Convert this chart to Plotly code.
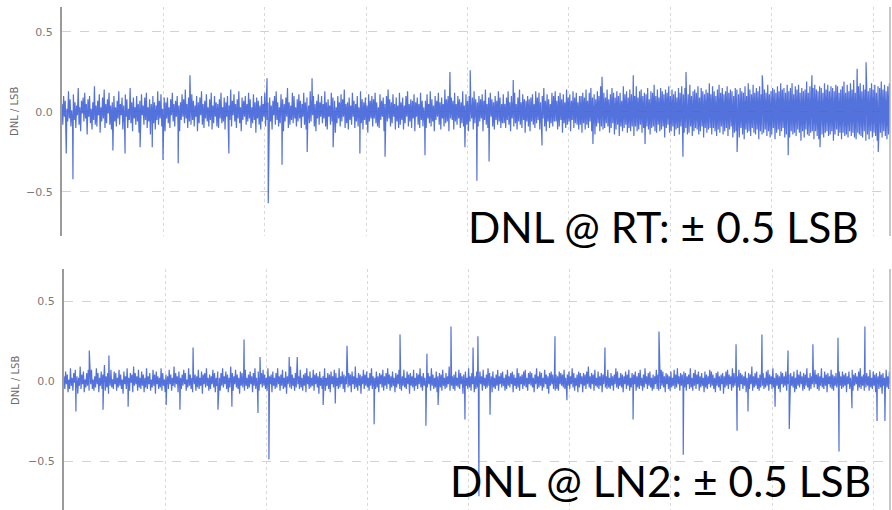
import plotly.graph_objects as go

# DNL per output code, in hundredths of an LSB, sampled every 4 codes (0 .. 4092)
CODE_STEP = 4

rt_dnl = [
    5, -8, 10, -3, 7, -11, 2, -6, 13, -4, 8, -9, 1, -7, 11, -5, 6, -10, 4, -2, 15, -8, 3, -12, 7, -1, 9, -6, 12, -4, 5, -14,
    8, -3, 10, -7, 2, -11, 6, -5, 16, -8, 4, -9, 7, -2, 11, -13, 3, -6, 9, -4, 14, -10, 5, -7, 8, -1, 12, -8, 4, -11, 6, -5,
    10, -6, 3, -9, 7, -4, 13, -8, 5, -2, 9, -11, 4, -7, 11, -3, 8, -10, 2, -5, 15, -7, 6, -12, 9, -4, 3, -8, 10, -6, 5, -13,
    7, -9, 11, -2, 4, -8, 9, -5, 12, -10, 3, -6, 8, -14, 5, -3, 10, -7, 6, -11, 4, -5, 13, -8, 7, -4, 11, -9, 2, -6, 9, -12,
    6, -4, 9, -7, 3, -10, 8, -2, 12, -6, 5, -9, 7, -3, 10, -8, 4, -12, 6, -5, 11, -3, 8, -7, 14, -4, 5, -10, 9, -6, 3, -8,
    11, -5, 7, -9, 4, -3, 10, -12, 6, -7, 9, -2, 13, -8, 5, -10, 7, -4, 11, -6, 3, -9, 8, -5, 12, -11, 4, -7, 10, -3, 6, -9,
    5, -10, 8, -4, 12, -7, 3, -6, 9, -11, 6, -3, 10, -8, 4, -5, 14, -9, 7, -2, 11, -6, 5, -10, 8, -4, 13, -7, 3, -12, 9, -5,
    7, -3, 10, -8, 5, -6, 12, -4, 8, -10, 3, -7, 11, -5, 6, -13, 9, -4, 7, -8, 4, -11, 10, -6, 5, -3, 12, -9, 8, -5, 6, -10,
    9, -6, 4, -11, 7, -2, 10, -8, 13, -5, 6, -9, 3, -7, 11, -4, 8, -12, 5, -6, 9, -3, 15, -10, 6, -8, 4, -5, 12, -7, 10, -4,
    3, -9, 8, -6, 11, -4, 7, -10, 5, -3, 12, -8, 6, -11, 9, -5, 4, -7, 13, -6, 8, -2, 10, -9, 5, -12, 7, -4, 11, -8, 6, -3,
    10, -7, 5, -4, 13, -9, 6, -11, 8, -3, 4, -8, 12, -6, 9, -5, 7, -13, 3, -7, 10, -4, 6, -9, 11, -6, 8, -3, 14, -10, 5, -7,
    6, -11, 9, -5, 4, -8, 12, -3, 7, -10, 5, -6, 10, -9, 3, -4, 13, -7, 8, -11, 6, -5, 9, -8, 4, -13, 11, -6, 7, -4, 10, -9,
    8, -4, 12, -7, 6, -9, 3, -10, 11, -5, 7, -3, 9, -12, 5, -8, 10, -6, 14, -4, 8, -9, 6, -7, 11, -3, 5, -11, 9, -6, 4, -10,
    12, -8, 6, -5, 9, -11, 4, -7, 10, -3, 13, -9, 5, -6, 8, -10, 7, -4, 11, -12, 6, -3, 9, -8, 5, -10, 12, -5, 7, -9, 3, -6,
    7, -10, 11, -4, 5, -7, 13, -9, 8, -6, 4, -12, 10, -5, 7, -3, 12, -8, 6, -11, 9, -4, 5, -9, 14, -7, 8, -6, 10, -12, 6, -4,
    9, -5, 7, -11, 12, -6, 5, -8, 10, -4, 8, -10, 6, -7, 13, -9, 4, -5, 11, -8, 7, -12, 10, -6, 5, -4, 9, -11, 13, -7, 8, -5,
    6, -9, 10, -6, 8, -4, 11, -12, 7, -5, 14, -8, 5, -10, 9, -6, 12, -3, 8, -9, 6, -11, 10, -5, 7, -8, 13, -6, 9, -10, 5, -7,
    11, -7, 5, -10, 9, -5, 13, -8, 6, -12, 10, -4, 7, -9, 12, -7, 5, -11, 9, -6, 14, -8, 6, -10, 11, -5, 8, -13, 7, -6, 10, -9,
    8, -12, 9, -6, 11, -8, 5, -10, 13, -7, 9, -5, 12, -11, 6, -8, 10, -4, 15, -9, 7, -12, 11, -6, 8, -10, 5, -7, 12, -9, 10, -6,
    13, -6, 7, -11, 10, -9, 12, -5, 8, -13, 11, -7, 6, -10, 14, -8, 9, -6, 11, -12, 7, -5, 13, -10, 9, -7, 12, -8, 6, -11, 10, -8,
    10, -13, 12, -7, 9, -11, 14, -8, 7, -10, 12, -6, 15, -12, 9, -8, 11, -14, 8, -9, 13, -7, 10, -12, 16, -9, 8, -11, 12, -10, 9, -7,
    14, -9, 8, -13, 11, -10, 15, -7, 12, -14, 9, -11, 13, -8, 10, -15, 12, -9, 7, -12, 16, -10, 11, -8, 13, -13, 9, -10, 14, -12, 11, -9,
    12, -15, 10, -9, 16, -12, 9, -11, 13, -8, 14, -13, 10, -10, 12, -16, 11, -9, 15, -11, 8, -14, 13, -10, 12, -9, 17, -12, 10, -13, 14, -8,
    9, -12, 15, -11, 13, -9, 11, -16, 14, -10, 12, -8, 16, -13, 10, -12, 14, -9, 11, -15, 13, -11, 9, -10, 15, -14, 12, -9, 16, -12, 11, -13,
    15, -10, 12, -14, 11, -13, 17, -9, 10, -15, 13, -12, 14, -10, 12, -11, 16, -14, 9, -12, 15, -9, 13, -16, 11, -10, 14, -13, 12, -11, 18, -10,
    11, -14, 16, -10, 13, -12, 10, -15, 14, -11, 17, -13, 12, -9, 15, -14, 11, -12, 13, -10, 16, -15, 12, -11, 14, -9, 13, -16, 10, -13, 15, -12,
    14, -12, 11, -16, 15, -10, 13, -14, 12, -17, 16, -11, 10, -13, 18, -12, 14, -15, 11, -10, 17, -13, 12, -14, 15, -11, 13, -17, 16, -12, 11, -14,
    16, -13, 14, -11, 12, -15, 17, -12, 11, -16, 13, -14, 15, -10, 14, -17, 12, -13, 16, -11, 13, -15, 18, -12, 14, -10, 15, -16, 12, -14, 17, -11,
    13, -16, 15, -12, 18, -14, 11, -13, 16, -15, 14, -11, 17, -13, 12, -18, 15, -12, 13, -16, 14, -11, 19, -14, 12, -15, 16, -13, 14, -12, 15, -17,
    17, -12, 14, -15, 13, -17, 16, -11, 15, -14, 12, -16, 18, -13, 14, -12, 17, -15, 13, -14, 16, -12, 15, -18, 13, -14, 17, -11, 16, -15, 12, -13,
    14, -17, 16, -13, 19, -15, 12, -14, 17, -16, 13, -12, 18, -15, 14, -13, 20, -16, 12, -17, 15, -13, 16, -14, 18, -15, 13, -16, 17, -12, 14, -18,
    16, -14, 13, -17, 15, -12, 18, -16, 14, -13, 17, -15, 12, -18, 16, -14, 15, -13, 19, -16, 14, -12, 17, -15, 13, -17, 16, -14, 18, -13, 15, -16,
]

ln2_dnl = [
    3, -5, 6, -2, 4, -7, 1, -5, 8, -3, 2, -6, 5, -1, 7, -4, 3, -8, 2, -3, 9, -5, 4, -2, 6, -7, 1, -4, 5, -3, 7, -6,
    4, -2, 7, -5, 1, -6, 3, -4, 8, -2, 5, -7, 2, -3, 6, -5, 4, -1, 10, -6, 3, -4, 5, -8, 2, -3, 7, -4, 1, -5, 6, -2,
    5, -6, 2, -4, 7, -3, 4, -5, 1, -8, 6, -2, 3, -5, 8, -4, 2, -6, 5, -1, 4, -7, 9, -3, 5, -2, 3, -6, 7, -4, 2, -5,
    6, -3, 4, -7, 2, -4, 8, -5, 3, -2, 5, -6, 1, -4, 7, -3, 4, -8, 6, -2, 3, -5, 2, -4, 8, -6, 5, -3, 1, -7, 4, -2,
    3, -5, 7, -2, 4, -6, 2, -3, 9, -4, 5, -2, 3, -7, 6, -4, 2, -5, 4, -3, 7, -2, 5, -6, 1, -4, 8, -3, 4, -5, 2, -7,
    5, -2, 4, -6, 3, -4, 7, -5, 2, -3, 6, -8, 4, -2, 5, -4, 8, -3, 2, -6, 4, -5, 3, -2, 7, -4, 5, -7, 2, -3, 6, -4,
    2, -6, 5, -3, 8, -4, 3, -2, 6, -5, 4, -7, 2, -4, 9, -3, 5, -6, 3, -2, 7, -4, 4, -5, 2, -8, 6, -3, 5, -4, 3, -6,
    7, -3, 2, -5, 4, -4, 6, -2, 3, -7, 5, -3, 8, -5, 2, -4, 6, -6, 3, -2, 5, -4, 7, -3, 4, -5, 2, -6, 8, -4, 3, -2,
    4, -7, 6, -3, 2, -5, 5, -4, 8, -2, 3, -6, 4, -3, 7, -5, 2, -4, 6, -8, 3, -2, 5, -4, 9, -5, 4, -3, 2, -6, 5, -4,
    6, -2, 3, -5, 7, -4, 2, -6, 4, -3, 5, -7, 8, -2, 3, -5, 6, -4, 2, -3, 7, -6, 4, -2, 5, -4, 3, -8, 6, -3, 2, -5,
    3, -4, 8, -6, 2, -3, 5, -5, 4, -7, 6, -2, 3, -4, 7, -6, 5, -3, 2, -5, 8, -4, 3, -2, 6, -5, 4, -7, 3, -2, 5, -4,
    5, -3, 4, -7, 6, -2, 3, -5, 9, -4, 2, -6, 5, -3, 4, -8, 3, -2, 7, -5, 4, -3, 6, -4, 2, -6, 5, -3, 8, -5, 3, -4,
    2, -5, 6, -4, 3, -7, 5, -2, 4, -4, 7, -6, 3, -3, 5, -5, 8, -2, 4, -6, 3, -4, 6, -3, 2, -7, 5, -4, 4, -2, 7, -5,
    4, -6, 3, -3, 7, -4, 2, -5, 6, -2, 4, -8, 5, -3, 3, -4, 7, -6, 2, -3, 5, -5, 4, -2, 8, -4, 3, -6, 5, -3, 2, -4,
    6, -4, 5, -2, 3, -6, 8, -3, 4, -5, 2, -4, 6, -7, 3, -2, 5, -4, 4, -6, 7, -3, 2, -5, 5, -4, 3, -2, 9, -6, 4, -3,
    3, -5, 4, -6, 6, -3, 2, -4, 7, -5, 5, -2, 3, -8, 4, -4, 6, -3, 2, -5, 8, -4, 3, -6, 5, -2, 4, -7, 3, -5, 6, -4,
    5, -4, 6, -2, 3, -6, 7, -3, 2, -5, 4, -4, 8, -3, 5, -2, 3, -7, 6, -4, 2, -5, 4, -3, 7, -6, 3, -2, 5, -4, 6, -3,
    2, -6, 4, -5, 7, -3, 3, -4, 5, -2, 6, -7, 4, -3, 2, -5, 8, -4, 5, -6, 3, -2, 4, -5, 6, -3, 7, -4, 2, -6, 5, -2,
    6, -3, 5, -4, 2, -7, 4, -2, 8, -5, 3, -4, 6, -3, 5, -6, 2, -4, 7, -2, 4, -5, 3, -8, 5, -3, 6, -2, 4, -5, 3, -6,
    4, -5, 3, -6, 6, -2, 5, -3, 4, -4, 7, -5, 2, -6, 4, -3, 6, -5, 3, -2, 8, -4, 5, -6, 2, -3, 4, -7, 6, -4, 5, -2,
    3, -7, 5, -3, 4, -5, 6, -2, 9, -4, 3, -5, 5, -2, 4, -6, 7, -3, 2, -4, 6, -5, 3, -3, 5, -7, 4, -2, 6, -4, 3, -5,
    7, -4, 2, -5, 5, -3, 3, -6, 4, -2, 8, -4, 6, -5, 2, -3, 5, -4, 4, -7, 3, -2, 6, -5, 4, -3, 7, -6, 2, -4, 5, -3,
    4, -2, 6, -6, 3, -4, 5, -5, 7, -3, 2, -6, 4, -4, 8, -2, 3, -5, 5, -3, 6, -4, 2, -6, 4, -5, 3, -2, 7, -5, 4, -6,
    2, -5, 7, -3, 6, -4, 3, -7, 5, -2, 4, -5, 3, -6, 6, -4, 2, -3, 7, -5, 4, -4, 8, -2, 3, -6, 5, -3, 4, -5, 6, -4,
    5, -6, 3, -2, 4, -5, 8, -4, 2, -6, 5, -3, 7, -5, 4, -2, 6, -6, 3, -4, 5, -3, 2, -7, 6, -4, 4, -5, 3, -2, 7, -4,
    6, -3, 4, -5, 2, -7, 5, -3, 6, -4, 3, -6, 4, -2, 5, -8, 3, -4, 6, -3, 7, -5, 4, -2, 3, -6, 8, -4, 5, -3, 2, -5,
    3, -4, 7, -6, 5, -2, 4, -5, 3, -3, 6, -7, 2, -4, 5, -5, 4, -2, 9, -6, 3, -4, 5, -3, 6, -5, 2, -6, 4, -4, 7, -3,
    5, -5, 2, -4, 6, -3, 7, -6, 4, -2, 3, -5, 8, -4, 2, -6, 5, -3, 4, -5, 3, -7, 6, -2, 5, -4, 3, -3, 6, -6, 4, -2,
    4, -6, 5, -3, 3, -4, 6, -7, 2, -5, 7, -3, 4, -4, 6, -2, 3, -6, 5, -5, 4, -3, 8, -4, 2, -6, 5, -5, 3, -2, 6, -4,
    7, -2, 4, -5, 5, -6, 3, -3, 8, -4, 2, -5, 6, -3, 4, -7, 5, -2, 3, -4, 7, -5, 4, -6, 3, -3, 5, -4, 2, -7, 6, -3,
    3, -5, 6, -4, 4, -3, 5, -7, 3, -2, 6, -5, 2, -4, 7, -6, 4, -3, 5, -2, 3, -6, 6, -4, 8, -5, 3, -3, 4, -6, 5, -4,
    5, -3, 3, -6, 7, -4, 2, -5, 6, -3, 4, -7, 5, -2, 3, -5, 6, -4, 4, -8, 5, -3, 2, -6, 7, -4, 3, -5, 6, -2, 4, -5,
]

# Isolated large-DNL codes (code, DNL in LSB)
rt_spike_codes = [21, 54, 251, 311, 385, 445, 498, 573, 631, 823, 1011, 1017, 1085, 1209, 1233,
                  1337, 1469, 1593, 1790, 1913, 1987, 2013, 2046, 2106, 2225, 2367, 2618, 2663,
                  2817, 2875, 3062, 3077, 3329, 3453, 3581, 3698, 3738, 3921, 3965, 4025]
rt_spike_values = [-0.26, -0.42, -0.24, -0.26, -0.22, -0.22, -0.30, -0.32, 0.23, -0.26, 0.21, -0.57,
                   -0.33, -0.25, 0.21, -0.22, -0.26, -0.28, -0.27, 0.25, -0.22, 0.26, -0.43, -0.31,
                   0.20, -0.21, -0.20, 0.22, 0.23, -0.20, -0.28, 0.25, -0.25, 0.23, -0.27, 0.23,
                   -0.22, 0.27, 0.31, -0.25]

ln2_spike_codes = [59, 125, 193, 222, 317, 505, 573, 638, 761, 830, 890, 959, 969, 1013, 1113,
                   1153, 1281, 1341, 1399, 1533, 1661, 1789, 1794, 1849, 1913, 1982, 2022, 2046,
                   2051, 2106, 2427, 2486, 2674, 2813, 2941, 3061, 3322, 3327, 3381, 3450, 3515,
                   3579, 3585, 3702, 3826, 3831, 3895, 3959, 4019, 4058]
ln2_spike_values = [-0.19, 0.19, -0.18, 0.16, -0.16, -0.15, -0.18, 0.21, -0.18, -0.16, 0.26, -0.20,
                    0.15, -0.49, 0.15, 0.15, -0.15, -0.14, 0.22, -0.27, 0.29, -0.28, 0.17, -0.15,
                    0.34, -0.24, 0.21, 0.28, -0.72, -0.21, 0.28, -0.12, 0.21, -0.24, 0.31, -0.46,
                    0.23, -0.31, -0.19, 0.29, -0.16, 0.19, -0.30, 0.23, 0.27, -0.44, -0.17, 0.34,
                    -0.25, -0.25]

Y_TICKS = [-0.5, 0.0, 0.5]
LABEL_RT = "DNL @ RT: ± 0.5 LSB"
LABEL_LN2 = "DNL @ LN2: ± 0.5 LSB"
Y_TITLE = "DNL / LSB"


def dnl_series(base, spike_codes, spike_values):
    pts = {i * CODE_STEP: v / 100.0 for i, v in enumerate(base)}
    pts.update(dict(zip(spike_codes, spike_values)))
    codes = sorted(pts)
    return codes, [pts[c] for c in codes]


rt_x, rt_y = dnl_series(rt_dnl, rt_spike_codes, rt_spike_values)
ln2_x, ln2_y = dnl_series(ln2_dnl, ln2_spike_codes, ln2_spike_values)

W, H = 892, 510
LINE_COLOR = "rgba(60,94,214,0.88)"

fig = go.Figure()
fig.add_trace(go.Scatter(x=rt_x, y=rt_y, mode="lines", xaxis="x", yaxis="y",
                         line=dict(color=LINE_COLOR, width=1.2), showlegend=False))
fig.add_trace(go.Scatter(x=ln2_x, y=ln2_y, mode="lines", xaxis="x2", yaxis="y2",
                         line=dict(color=LINE_COLOR, width=1.2), showlegend=False))

xcommon = dict(range=[0, 4083], tick0=0, dtick=500, showgrid=True, gridcolor="#d9d9d9",
               griddash="dot", gridwidth=1, showticklabels=False, zeroline=False,
               showline=False, ticks="")
ycommon = dict(tickvals=Y_TICKS, tickformat=".1f", showgrid=True, gridcolor="#d2d2d2",
               griddash="dash", gridwidth=1, zeroline=False, showline=True,
               linecolor="#9a9a9a", linewidth=2, ticks="", ticklabelstandoff=5,
               tickfont=dict(family="DejaVu Sans", size=11, color="#7a7a7a"), automargin=False)

fig.update_layout(
    width=W, height=H,
    margin=dict(l=0, r=0, t=0, b=0),
    paper_bgcolor="white", plot_bgcolor="white",
    xaxis=dict(domain=[62 / W, 890 / W], anchor="y", **xcommon),
    yaxis=dict(domain=[1 - 236 / H, 1 - 7 / H], anchor="x", range=[-0.775, 0.656], **ycommon),
    xaxis2=dict(domain=[64 / W, 890 / W], anchor="y2", **xcommon),
    yaxis2=dict(domain=[0, 1 - 269 / H], anchor="x2", range=[-0.806, 0.70], **ycommon),
)

# right-hand frame edges
fig.add_shape(type="line", xref="paper", yref="paper", x0=890 / W, x1=890 / W,
              y0=1 - 236 / H, y1=1 - 7 / H, line=dict(color="#b5b5b5", width=1.5))
fig.add_shape(type="line", xref="paper", yref="paper", x0=890 / W, x1=890 / W,
              y0=0, y1=1 - 269 / H, line=dict(color="#b5b5b5", width=1.5))

for yref in ("y", "y2"):
    fig.add_annotation(text=Y_TITLE, xref="paper", x=15 / W, yref=yref, y=0, textangle=-90,
                       showarrow=False, xanchor="center", yanchor="middle",
                       font=dict(family="DejaVu Sans", size=10, color="#6a6a6a"))

fig.add_annotation(text=LABEL_RT, xref="paper", yref="paper", x=861 / W, y=1 - 226 / H,
                   xanchor="right", yanchor="middle", showarrow=False,
                   font=dict(family="Lato", size=42.5, color="black"))
fig.add_annotation(text=LABEL_LN2, xref="paper", yref="paper", x=873 / W, y=1 - 480 / H,
                   xanchor="right", yanchor="middle", showarrow=False,
                   font=dict(family="Lato", size=42.5, color="black"))

fig.write_html("out.html")
